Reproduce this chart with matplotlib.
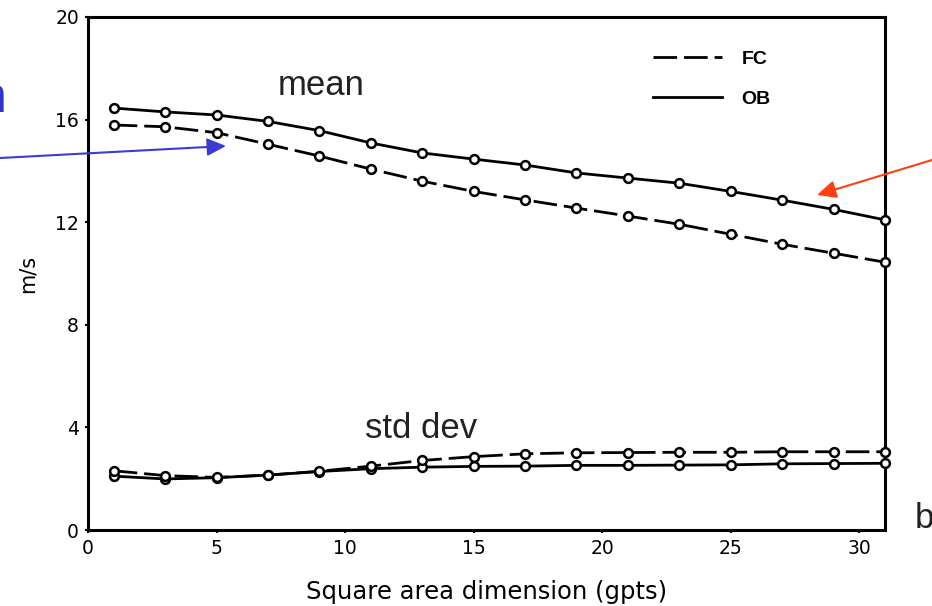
import matplotlib
matplotlib.use("Agg")
import matplotlib.pyplot as plt
from matplotlib.lines import Line2D
from matplotlib.patches import FancyArrowPatch
from matplotlib.font_manager import FontProperties

plt.rcParams["lines.scale_dashes"] = False

# Square area dimension (grid points)
area_dim = [1, 3, 5, 7, 9, 11, 13, 15, 17, 19, 21, 23, 25, 27, 29, 31]

# Mean wind speed (m/s)
ob_mean = [16.45, 16.30, 16.18, 15.93, 15.57, 15.09, 14.70, 14.46,
           14.23, 13.92, 13.72, 13.52, 13.20, 12.86, 12.50, 12.09]
fc_mean = [15.79, 15.72, 15.49, 15.04, 14.58, 14.07, 13.60, 13.20,
           12.87, 12.55, 12.24, 11.92, 11.53, 11.14, 10.79, 10.44]

# Standard deviation of wind speed (m/s)
ob_std = [2.10, 1.99, 2.04, 2.14, 2.28, 2.39, 2.45, 2.48,
          2.49, 2.52, 2.52, 2.53, 2.54, 2.58, 2.59, 2.60]
fc_std = [2.31, 2.12, 2.05, 2.14, 2.29, 2.49, 2.71, 2.86,
          2.97, 3.01, 3.02, 3.03, 3.03, 3.05, 3.05, 3.05]

x_ticks = [0, 5, 10, 15, 20, 25, 30]
y_ticks = [0, 4, 8, 12, 16, 20]
series_labels = ["FC", "OB"]

W, H = 932, 606
fig = plt.figure(figsize=(W / 100, H / 100), dpi=100)
ax = fig.add_axes([88 / W, 76 / H, 797 / W, 513 / H])

DASH = (0, (17, 5))
line_kw = dict(color="black", lw=2.0, marker="o", ms=6.3, mew=1.8,
               mfc="white", mec="black", clip_on=False, zorder=5)

ax.plot(area_dim, ob_mean, ls="-", **line_kw)
ax.plot(area_dim, fc_mean, ls=DASH, **line_kw)
ax.plot(area_dim, ob_std, ls="-", **line_kw)
ax.plot(area_dim, fc_std, ls=DASH, **line_kw)

ax.set_xlim(0, 31)
ax.set_ylim(0, 20)
ax.set_xticks(x_ticks)
ax.set_yticks(y_ticks)
for s in ax.spines.values():
    s.set_linewidth(2.2)
    s.set_zorder(4)
ax.tick_params(direction="out", length=2.5, width=1.5, pad=4,
               labelsize=13.5, top=False, right=False)

ax.set_xlabel("Square area dimension (gpts)", fontsize=17.5, labelpad=16)
ax.set_ylabel("m/s", fontsize=15, labelpad=13)

# Legend (lines only, no markers)
handles = [Line2D([], [], color="black", lw=2.0, ls=DASH),
           Line2D([], [], color="black", lw=2.0, ls="-")]
ax.legend(handles, series_labels, loc="upper left",
          bbox_to_anchor=(653 / W, 1 - 50 / H), bbox_transform=fig.transFigure,
          frameon=False, borderpad=0, borderaxespad=0,
          handlelength=3.55, handletextpad=1.0, labelspacing=1.15,
          prop=FontProperties(family="Liberation Sans", weight="bold", size=14))

# Annotations
txt_kw = dict(family="Liberation Sans", color="#222222", fontsize=25)
fig.text(278 / W, 1 - 95 / H, "mean", ha="left", va="baseline", **txt_kw)
fig.text(365 / W, 1 - 438 / H, "std dev", ha="left", va="baseline", **txt_kw)
fig.text(915 / W, 1 - 528 / H, "b", ha="left", va="baseline", **txt_kw)
fig.text(6.5 / W, 1 - 112 / H, "n", ha="right", va="baseline",
         family="Liberation Sans", color="#3333cc", fontsize=36)

blue_arrow = FancyArrowPatch((0, 1 - 158 / H), (226 / W, 1 - 146 / H),
                             transform=fig.transFigure, color="#3b3bd6", lw=1.5,
                             arrowstyle="-|>,head_length=11.5,head_width=5.4",
                             mutation_scale=1, shrinkA=0, shrinkB=0)
red_arrow = FancyArrowPatch((1.0, 1 - 160 / H), (817 / W, 1 - 195 / H),
                            transform=fig.transFigure, color="#ff4010", lw=1.5,
                            arrowstyle="-|>,head_length=11.5,head_width=5.4",
                            mutation_scale=1, shrinkA=0, shrinkB=0)
fig.add_artist(blue_arrow)
fig.add_artist(red_arrow)

fig.savefig("out.png", dpi=100)
